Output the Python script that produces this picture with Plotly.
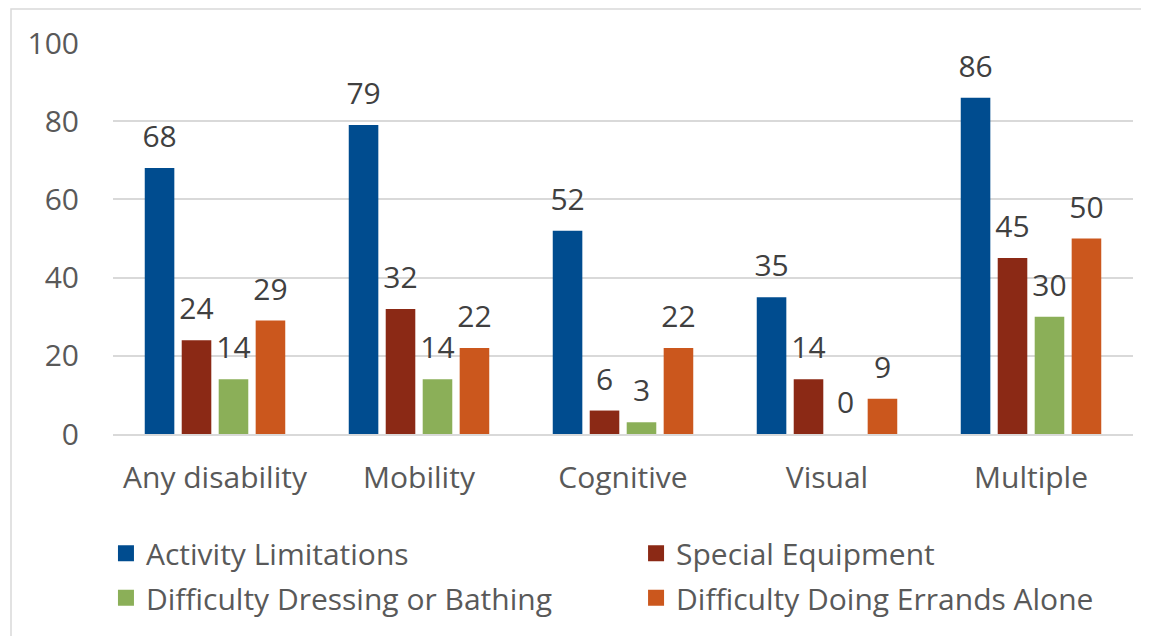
import plotly.graph_objects as go

categories = ["Any disability", "Mobility", "Cognitive", "Visual", "Multiple"]
activity_limitations = [68, 79, 52, 35, 86]
special_equipment = [24, 32, 6, 14, 45]
dressing_bathing = [14, 14, 3, 0, 30]
errands_alone = [29, 22, 22, 9, 50]

series = [
    ("Activity Limitations", activity_limitations, "#004C8F"),
    ("Special Equipment", special_equipment, "#8B2915"),
    ("Difficulty Dressing or Bathing", dressing_bathing, "#8BAF58"),
    ("Difficulty Doing Errands Alone", errands_alone, "#CB571D"),
]

FONT = "Open Sans"
TEXT_COLOR = "#595959"
SIZE = 30

fig = go.Figure()
for name, values, color in series:
    fig.add_bar(
        x=categories,
        y=values,
        name=name,
        offsetgroup=name,
        marker=dict(color=color, line=dict(width=0)),
        showlegend=False,
    )
for name, values, color in series:
    # value labels, lifted above the bar by an invisible marker
    fig.add_scatter(
        x=categories,
        y=values,
        mode="markers+text",
        offsetgroup=name,
        text=[str(v) for v in values],
        textposition="top center",
        textfont=dict(size=SIZE, color="#404040", family=FONT),
        marker=dict(size=20, color="rgba(0,0,0,0)"),
        cliponaxis=False,
        showlegend=False,
        hoverinfo="skip",
    )

# one legend per entry, laid out as a 2x2 grid below the plot
legend_ids = ["legend", "legend2", "legend3", "legend4"]
legend_pos = [(-0.0069, -0.305), (0.5128, -0.305), (-0.0069, -0.419), (0.5128, -0.419)]
for (name, values, color), lid in zip(series, legend_ids):
    fig.add_scatter(
        x=[None],
        y=[None],
        mode="markers",
        name=name,
        legend=lid,
        marker=dict(symbol="square", size=20, color=color),
    )

legend_style = dict(
    orientation="h",
    xanchor="left",
    yanchor="middle",
    font=dict(size=SIZE, color=TEXT_COLOR, family=FONT),
    itemsizing="trace",
    bgcolor="rgba(0,0,0,0)",
)

fig.update_layout(
    width=1141,
    height=628,
    margin=dict(l=105, r=16, t=35, b=202),
    paper_bgcolor="white",
    plot_bgcolor="white",
    font=dict(family=FONT, size=SIZE, color=TEXT_COLOR),
    barmode="group",
    bargap=0.275,
    bargroupgap=0.2,
    scattermode="group",
    scattergap=0.275,
    showlegend=True,
    xaxis=dict(
        showgrid=False,
        showline=True,
        linecolor="#D9D9D9",
        linewidth=2,
        ticks="outside",
        ticklen=16,
        tickcolor="rgba(0,0,0,0)",
        tickfont=dict(size=SIZE, color=TEXT_COLOR),
    ),
    yaxis=dict(
        range=[0, 100],
        dtick=20,
        showgrid=True,
        gridcolor="#D9D9D9",
        gridwidth=2,
        zeroline=False,
        showline=False,
        ticks="outside",
        ticklen=27,
        tickcolor="rgba(0,0,0,0)",
        tickfont=dict(size=SIZE, color=TEXT_COLOR),
    ),
    shapes=[
        dict(
            type="rect",
            xref="paper",
            yref="paper",
            x0=-0.1,
            x1=1.05,
            y0=-0.7,
            y1=1.087,
            line=dict(color="#D9D9D9", width=1.5),
            fillcolor="rgba(0,0,0,0)",
            layer="below",
        )
    ],
)
for lid, (lx, ly) in zip(legend_ids, legend_pos):
    fig.update_layout({lid: dict(legend_style, x=lx, y=ly)})

fig.write_html("out.html")
